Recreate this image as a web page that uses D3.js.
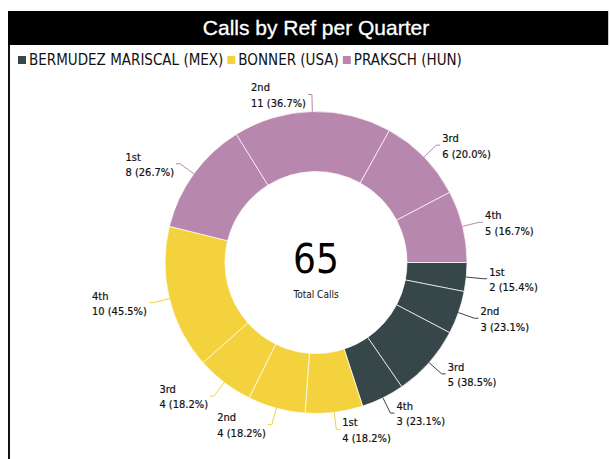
<!DOCTYPE html>
<html>
<head>
<meta charset="utf-8">
<script src="https://cdn.jsdelivr.net/npm/d3@7"></script>
<style>
  body { margin: 0; background: #fff; }
  svg { display: block; }
</style>
</head>
<body>
<svg id="chart" width="610" height="459"></svg>
<script>
const refs = ["BERMUDEZ MARISCAL (MEX)", "BONNER (USA)", "PRAKSCH (HUN)"];
const refColors = ["#374649", "#F3D23E", "#B887AD"];
const quarters = ["1st", "2nd", "3rd", "4th"];
const mexCalls = [2, 3, 5, 3];
const usaCalls = [4, 4, 4, 10];
const hunCalls = [8, 11, 6, 5];

const callsByRef = [mexCalls, usaCalls, hunCalls];

// one slice per ref+quarter, in drawing order
const slices = [];
callsByRef.forEach((vals, ri) => {
  const sum = d3.sum(vals);
  vals.forEach((v, qi) => {
    slices.push({ ref: refs[ri], ri: ri, quarter: quarters[qi], value: v, pct: v / sum });
  });
});
const total = d3.sum(slices, d => d.value);

const svg = d3.select("#chart");
const font = "'DejaVu Sans Condensed', 'DejaVu Sans', sans-serif";

// frame
svg.append("rect")
    .attr("x", 8).attr("y", 11)
    .attr("width", 601).attr("height", 34)
    .attr("fill", "#000");
svg.append("line")
    .attr("x1", 608.5).attr("x2", 608.5)
    .attr("y1", 11).attr("y2", 45)
    .attr("stroke", "#ccc");
svg.append("line")
    .attr("x1", 9).attr("x2", 9)
    .attr("y1", 45).attr("y2", 459)
    .attr("stroke", "#111").attr("stroke-width", 2);

svg.append("text")
    .attr("x", 316).attr("y", 35)
    .attr("text-anchor", "middle")
    .attr("fill", "#fff")
    .style("font-family", "'Liberation Sans', Arial, sans-serif")
    .style("font-size", "21px")
    .style("stroke", "#fff").style("stroke-width", 0.3)
    .text("Calls by Ref per Quarter");

// legend
const legend = svg.append("g").attr("transform", "translate(18,60)");
let lx = 0;
refs.forEach((r, i) => {
  legend.append("rect")
      .attr("x", lx).attr("y", -4)
      .attr("width", 8).attr("height", 8)
      .attr("fill", refColors[i]);
  const t = legend.append("text")
      .attr("x", lx + 11).attr("y", 0)
      .attr("dy", "0.35em")
      .attr("fill", "#111")
      .style("font-family", font)
      .style("font-size", "15px")
      .text(r);
  lx += 11 + t.node().getComputedTextLength() + 4;
});

// donut
const cx = 316, cy = 262.5;
const rOuter = 151, rInner = 91;
const g = svg.append("g").attr("transform", "translate(" + cx + "," + cy + ")");

const pie = d3.pie()
    .value(d => d.value)
    .sort(null)
    .startAngle(Math.PI / 2)
    .endAngle(Math.PI / 2 + 2 * Math.PI);

const arc = d3.arc().innerRadius(rInner).outerRadius(rOuter);
const arcs = pie(slices);

g.selectAll("path.slice")
  .data(arcs)
  .enter().append("path")
    .attr("class", "slice")
    .attr("d", arc)
    .attr("fill", d => refColors[d.data.ri])
    .attr("stroke", "#fff")
    .attr("stroke-opacity", 0.7)
    .attr("stroke-width", 1);

// labels
const fmt = d3.format(".1%");
const lab = g.selectAll("g.lab")
  .data(arcs)
  .enter().append("g")
    .attr("class", "lab");

lab.each(function(d) {
  const a = (d.startAngle + d.endAngle) / 2;
  const sx = Math.sin(a), sy = -Math.cos(a);
  const right = sx >= 0;
  const p1 = [sx * rOuter, sy * rOuter];
  const p2 = [sx * (rOuter + 17), sy * (rOuter + 17)];
  const p3 = [p2[0] + (right ? 4 : -4), p2[1]];
  const sel = d3.select(this);
  sel.append("polyline")
      .attr("points", [p1, p2, p3].map(p => p.join(",")).join(" "))
      .attr("fill", "none")
      .attr("stroke", refColors[d.data.ri])
      .attr("stroke-width", 1);
  const txt = sel.append("text")
      .attr("fill", "#111")
      .style("font-family", font)
      .style("font-size", "11px")
      .style("stroke", "#111").style("stroke-width", 0.2);
  const l1 = txt.append("tspan").attr("y", p3[1] - 7).attr("dy", "0.35em").text(d.data.quarter);
  const l2 = txt.append("tspan").attr("y", p3[1] + 8.5).attr("dy", "0.35em")
      .text(d.data.value + " (" + fmt(d.data.pct) + ")");
  const w = Math.max(l1.node().getComputedTextLength(), l2.node().getComputedTextLength());
  const x0 = right ? p3[0] + 2 : p3[0] - 2 - w;
  l1.attr("x", x0);
  l2.attr("x", x0);
});

// centre total
g.append("text")
    .attr("x", 0).attr("y", -4)
    .attr("text-anchor", "middle")
    .attr("dy", "0.35em")
    .attr("fill", "#000")
    .style("font-family", font)
    .style("font-size", "40px")
    .text(total);
g.append("text")
    .attr("x", 0).attr("y", 32)
    .attr("text-anchor", "middle")
    .attr("dy", "0.35em")
    .attr("fill", "#111")
    .style("font-family", font)
    .style("font-size", "10px")
    .text("Total Calls");
</script>
</body>
</html>
